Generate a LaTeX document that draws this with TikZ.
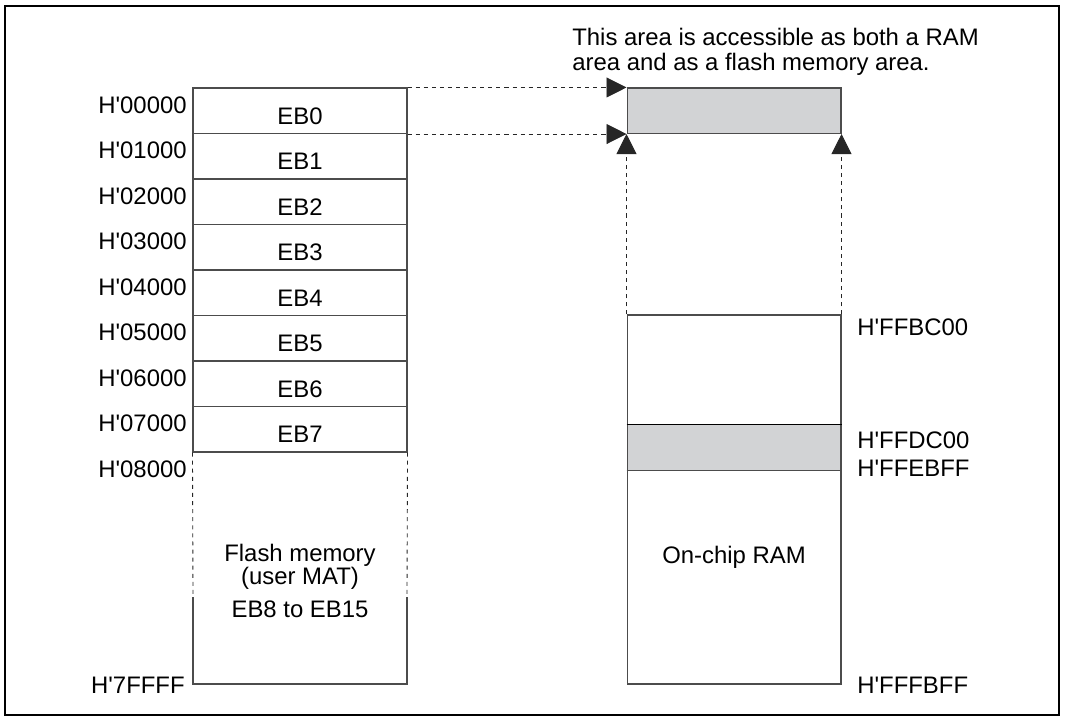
\documentclass[tikz,border=0pt]{standalone}
\usepackage{fontspec}
\setmainfont{Liberation Sans}
\usetikzlibrary{arrows.meta}
\definecolor{ramgray}{RGB}{210,211,213}
\newcommand{\haddr}[1]{H\textquotesingle#1}

\begin{document}
\begin{tikzpicture}[x=0.02cm, y=-0.02cm, every node/.style={font=\fontsize{13.6}{16}\selectfont, inner sep=0pt}, >={Triangle[length=4mm, width=4mm]},
	blk/.style={draw=black!70, line width=0.6pt, minimum width=4.28cm, minimum height=0.91cm},
	dline/.style={draw=black!85, line width=0.5pt, dash pattern=on 2.3pt off 2.3pt}]
	\useasboundingbox (0,0) rectangle (1065,717);
	\draw[line width=1.2pt] (5,6) rectangle (1059,715);
	\foreach \i in {0,...,7} {\node[blk] (eb\i) at (300,110.75+\i*45.5) {};}
	\foreach \i in {0,...,7} {\node[anchor=base] (ebt\i) at (300,124+\i*45.5) {EB\i};}
	\foreach \i/\a in {0/00000, 1/01000, 2/02000, 3/03000, 4/04000, 5/05000, 6/06000, 7/07000, 8/08000} {
		\node[anchor=base east] (adr\i) at (187,113+\i*45.5) {\haddr{\a}};
	}
	\draw[dline] (eb7.south west) -- (193,597);
	\draw[dline] (eb7.south east) -- (407,597);
	\draw[black!70, line width=0.6pt] (193,597) -- (193,684) -- (407,684) -- (407,597);
	\node[anchor=base] (flt1) at (300,561) {Flash memory};
	\node[anchor=base] (flt2) at (300,584) {(user MAT)};
	\node[anchor=base] (flt3) at (300,617) {EB8 to EB15};
	\node[anchor=base east] (adr9) at (185,693) {\haddr{7FFFF}};
	\node[blk, fill=ramgray] (ramtop) at (734,110.75) {};
	\node[blk, minimum height=2.2cm] (ram1) at (734,370) {};
	\node[blk, fill=ramgray] (ram2) at (734,447.5) {};
	\draw[black, line width=0.8pt] (ram2.north west) -- (ram2.north east) (ram2.south west) -- (ram2.south east);
	\node[blk, minimum height=4.28cm] (ram3) at (734,577) {};
	\node[anchor=base] (ramt) at (734,563) {On-chip RAM};
	\node[anchor=base west] (radr1) at (857,335) {\haddr{FFBC00}};
	\node[anchor=base west] (radr2) at (857,448) {\haddr{FFDC00}};
	\node[anchor=base west] (radr3) at (857,476) {\haddr{FFEBFF}};
	\node[anchor=base west] (radr4) at (857,693) {\haddr{FFFBFF}};
	\node[anchor=base west] (note1) at (572,45) {This area is accessible as both a RAM};
	\node[anchor=base west] (note2) at (572,70) {area and as a flash memory area.};
	\draw[dline, ->] (eb0.north east) -- (ramtop.north west);
	\draw[dline, ->] (eb0.south east) -- (ramtop.south west);
	\draw[dline, ->] (ram1.north west) -- (ramtop.south west);
	\draw[dline, ->] (ram1.north east) -- (ramtop.south east);
\end{tikzpicture}
\end{document}
